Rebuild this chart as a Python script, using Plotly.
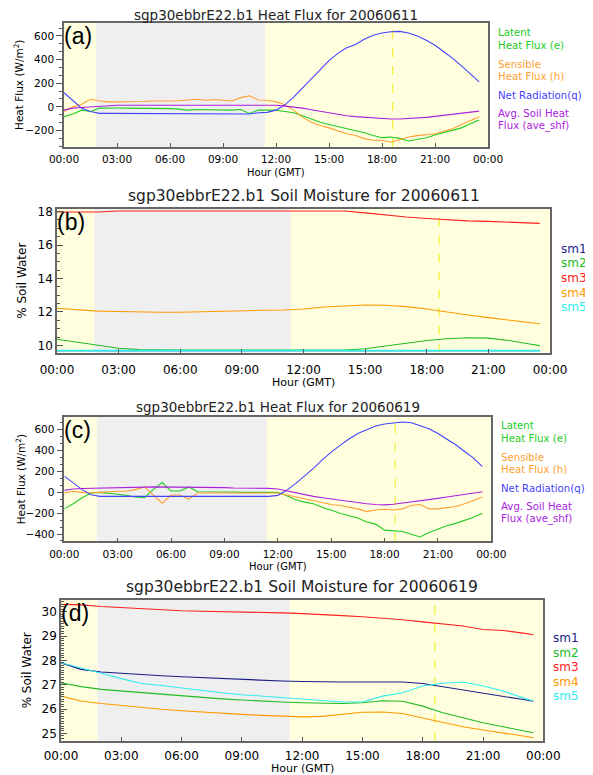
import plotly.graph_objects as go

# ---------------- data ----------------
hours_hf = [i * 0.5 for i in range(48)]          # 30-min EBBR samples, 00:00 .. 23:30
hours_sm = [0, 1, 2, 3, 4, 5, 6, 7, 8, 9, 10, 11, 12, 13, 14, 15, 16, 17, 18, 19, 20, 21, 22, 23, 23.5]

tick_hours = [0, 3, 6, 9, 12, 15, 18, 21, 24]
tick_text = ["00:00", "03:00", "06:00", "09:00", "12:00", "15:00", "18:00", "21:00", "00:00"]

night_start = 1.82
night_end = 11.38
solar_noon = 18.6

# 20060611 heat flux (W/m^2)
latent_0611 = [-83, -61, -28, -39, -11, -8, -10, -11, -11, -13, -13, -15, -15, -19, -28, -22,
               -25, -28, -25, -28, -22, -56, -28, -28, -28, -39, -50, -75, -103, -131, -150, -167,
               -189, -200, -219, -242, -261, -256, -267, -289, -278, -261, -239, -219, -200, -178, -144, -111]
sensible_0611 = [-39, 0, 22, 64, 50, 42, 42, 42, 42, 45, 50, 48, 50, 52, 56, 64,
                 56, 62, 56, 50, 78, 94, 58, 56, 42, 17, -28, -89, -131, -158, -178, -206,
                 -228, -242, -269, -283, -283, -300, -278, -256, -244, -239, -228, -206, -186, -150, -117, -83]
netrad_0611 = [119, 50, -11, -39, -55, -55, -55, -54, -55, -55, -54, -55, -55, -55, -54, -55,
               -55, -55, -55, -55, -55, -60, -50, -47, -28, 17, 83, 161, 244, 322, 392, 453,
               500, 528, 572, 606, 625, 636, 639, 625, 600, 564, 522, 467, 411, 347, 281, 211]
soilhf_0611 = [-28, -11, -6, 0, 8, 14, 14, 14, 14, 14, 14, 14, 14, 14, 14, 14,
               14, 14, 14, 14, 14, 14, 14, 14, 14, 6, 0, -11, -25, -39, -53, -64,
               -75, -83, -89, -97, -100, -103, -103, -100, -94, -89, -81, -72, -64, -53, -44, -36]

# 20060619 heat flux (W/m^2)
latent_0619 = [-159, -110, -52, -6, 0, -13, -19, -29, -45, -52, 26, 94, 13, 13, 52, 6,
               6, 10, 6, 3, 0, 0, 0, 0, 0, -32, -71, -94, -110, -143, -175, -201,
               -224, -247, -285, -305, -363, -370, -376, -402, -428, -386, -354, -321, -298, -272, -240, -201]
sensible_0619 = [-6, 10, 0, -6, 0, 6, 10, 10, 26, 52, -29, -104, -26, -26, -65, -6,
                 -6, -6, -6, -6, -6, -6, -6, -6, -6, -26, -45, -65, -84, -104, -117, -126,
                 -143, -159, -185, -169, -162, -169, -159, -126, -117, -159, -159, -149, -136, -110, -78, -45]
netrad_0619 = [156, 91, 26, -23, -39, -39, -40, -39, -38, -39, -39, -40, -39, -39, -38, -39,
               -39, -39, -40, -39, -39, -39, -39, -39, -29, 19, 84, 156, 230, 311, 386, 451,
               512, 564, 603, 636, 655, 668, 675, 668, 642, 610, 564, 512, 457, 392, 328, 246]
soilhf_0619 = [19, 32, 36, 39, 42, 42, 45, 45, 48, 50, 52, 52, 52, 52, 50, 48,
               48, 45, 45, 42, 42, 40, 40, 38, 32, 13, -6, -23, -39, -52, -65, -78,
               -91, -101, -110, -117, -120, -114, -104, -94, -84, -71, -58, -45, -32, -13, 0, 6]

# 20060611 soil moisture (%)
sm1_0611 = [9.69] * 25
sm2_0611 = [10.37, 10.19, 9.99, 9.83, 9.75, 9.72, 9.72, 9.72, 9.72, 9.72, 9.72, 9.72, 9.72, 9.72, 9.72,
            9.80, 9.97, 10.15, 10.30, 10.40, 10.46, 10.44, 10.30, 10.09, 9.99]
sm3_0611 = [17.97, 17.97, 17.97, 18.03, 18.03, 18.03, 18.03, 18.03, 18.03, 18.03, 18.03, 18.03, 18.03, 18.03, 18.03,
            17.92, 17.79, 17.67, 17.58, 17.50, 17.44, 17.41, 17.36, 17.32, 17.29]
sm4_0611 = [12.22, 12.14, 12.05, 12.03, 11.99, 11.98, 11.98, 12.02, 12.04, 12.07, 12.10, 12.12, 12.18, 12.30, 12.38,
            12.42, 12.40, 12.32, 12.18, 11.98, 11.82, 11.66, 11.50, 11.37, 11.30]
sm5_0611 = [9.69] * 25

# 20060619 soil moisture (%)
sm1_0619 = [27.90, 27.63, 27.52, 27.46, 27.41, 27.37, 27.33, 27.29, 27.25, 27.20, 27.16, 27.15, 27.13, 27.11, 27.11,
            27.11, 27.11, 27.11, 27.05, 26.92, 26.81, 26.67, 26.53, 26.39, 26.32]
sm2_0619 = [27.08, 26.92, 26.81, 26.74, 26.67, 26.61, 26.56, 26.49, 26.42, 26.37, 26.32, 26.29, 26.26, 26.25, 26.23,
            26.26, 26.34, 26.32, 26.12, 25.85, 25.64, 25.44, 25.27, 25.10, 25.03]
sm3_0619 = [30.30, 30.28, 30.21, 30.16, 30.12, 30.08, 30.04, 30.02, 30.01, 30.00, 29.99, 29.95, 29.92, 29.89, 29.84,
            29.79, 29.74, 29.67, 29.58, 29.49, 29.41, 29.27, 29.23, 29.12, 29.05]
sm4_0619 = [26.53, 26.33, 26.23, 26.14, 26.05, 25.99, 25.93, 25.87, 25.82, 25.78, 25.74, 25.70, 25.68, 25.70, 25.80,
            25.87, 25.88, 25.82, 25.63, 25.44, 25.27, 25.14, 25.03, 24.89, 24.82]
sm5_0619 = [27.90, 27.70, 27.47, 27.25, 27.05, 26.97, 26.86, 26.75, 26.67, 26.59, 26.53, 26.47, 26.40, 26.33, 26.29,
            26.29, 26.53, 26.67, 26.95, 27.06, 27.11, 26.95, 26.74, 26.46, 26.33]

# ---------------- style ----------------
W, H = 593, 775
OFF = 8  # page body margin offset
C_LAT, C_SEN, C_NET, C_SHF = "#22cc22", "#ffa030", "#4444ff", "#aa22dd"
C_SM = ["#1c1c88", "#22bb22", "#ff2020", "#ff9900", "#30eeee"]
YELLOW, GRAY = "#ffffe0", "#efefef"
FONT = "DejaVu Sans"


def px(x):
    return (x - OFF) / W


def py(y):
    return 1 - (y - OFF) / H


panels = [
    dict(n=1, xd=(64, 488), yd=(23, 147), yr=(-340, 710), dt=200, mdt=200 / 3, fs=10.5, tin=False, so=2,
         title="sgp30ebbrE22.b1 Heat Flux for 20060611", ty=15, tfs=13.5, lab="(a)", ytitle="Heat Flux (W/m<sup>2</sup>)",
         ytx=18, hy=172, hfs=10),
    dict(n=2, xd=(57, 550), yd=(209, 352.5), yr=(9.58, 18.15), dt=2, mdt=0.5, fs=12, tin=True, so=5,
         title="sgp30ebbrE22.b1 Soil Moisture for 20060611", ty=196, tfs=15.5, lab="(b)", ytitle="% Soil Water",
         ytx=22, hy=382.5, hfs=11),
    dict(n=3, xd=(64.3, 491.3), yd=(417.3, 541.3), yr=(-470, 720), dt=200, mdt=200 / 3, fs=10.5, tin=False, so=2,
         title="sgp30ebbrE22.b1 Heat Flux for 20060619", ty=407, tfs=13.5, lab="(c)", ytitle="Heat Flux (W/m<sup>2</sup>)",
         ytx=20, hy=566.5, hfs=10),
    dict(n=4, xd=(61, 543.3), yd=(600, 740.7), yr=(24.7, 30.48), dt=1, mdt=0.1, fs=12, tin=True, so=3,
         title="sgp30ebbrE22.b1 Soil Moisture for 20060619", ty=587, tfs=15.5, lab="(d)", ytitle="% Soil Water",
         ytx=27, hy=768.5, hfs=11),
]

fig = go.Figure()


def add_line(p, xs, ys, color, name, width=1.1):
    n = p["n"]
    fig.add_trace(go.Scatter(x=xs, y=ys, mode="lines", name=name, showlegend=False,
                             line=dict(color=color, width=width),
                             xaxis="x" if n == 1 else f"x{n}", yaxis="y" if n == 1 else f"y{n}"))


pa, pb, pc, pd = panels
add_line(pa, hours_hf, latent_0611, C_LAT, "Latent Heat Flux (e)")
add_line(pa, hours_hf, sensible_0611, C_SEN, "Sensible Heat Flux (h)")
add_line(pa, hours_hf, netrad_0611, C_NET, "Net Radiation(q)")
add_line(pa, hours_hf, soilhf_0611, C_SHF, "Avg. Soil Heat Flux (ave_shf)")

for ys, c, nm in zip([sm1_0611, sm2_0611, sm3_0611, sm4_0611, sm5_0611], C_SM, ["sm1", "sm2", "sm3", "sm4", "sm5"]):
    add_line(pb, hours_sm, ys, c, nm, width=1.6 if nm == "sm5" else 1.1)

add_line(pc, hours_hf, latent_0619, C_LAT, "Latent Heat Flux (e)")
add_line(pc, hours_hf, sensible_0619, C_SEN, "Sensible Heat Flux (h)")
add_line(pc, hours_hf, netrad_0619, C_NET, "Net Radiation(q)")
add_line(pc, hours_hf, soilhf_0619, C_SHF, "Avg. Soil Heat Flux (ave_shf)")

for ys, c, nm in zip([sm1_0619, sm2_0619, sm3_0619, sm4_0619, sm5_0619], C_SM, ["sm1", "sm2", "sm3", "sm4", "sm5"]):
    add_line(pd, hours_sm, ys, c, nm)

layout = dict(width=W, height=H, margin=dict(l=0, r=0, t=0, b=0, autoexpand=False), paper_bgcolor="white",
              plot_bgcolor=YELLOW, showlegend=False, font=dict(family=FONT, color="black"))
shapes = []
annotations = []

for p in panels:
    n = p["n"]
    xk = "xaxis" if n == 1 else f"xaxis{n}"
    yk = "yaxis" if n == 1 else f"yaxis{n}"
    xr = "x" if n == 1 else f"x{n}"
    yr = "y" if n == 1 else f"y{n}"
    xdom = [px(p["xd"][0]), px(p["xd"][1])]
    ydom = [py(p["yd"][1]), py(p["yd"][0])]
    layout[xk] = dict(domain=xdom, anchor=yr, range=[0, 24], tickvals=tick_hours, ticktext=tick_text,
                      ticks="inside", ticklen=4, tickcolor="#555", showline=True, linecolor="#666",
                      linewidth=1.5, mirror=True, showgrid=False, zeroline=False, automargin=False,
                      ticklabelstandoff=p["so"],
                      tickfont=dict(family=FONT, size=p["fs"], color="black"))
    layout[yk] = dict(domain=ydom, anchor=xr, range=list(p["yr"]), dtick=p["dt"], tick0=0,
                      ticks="inside" if p["tin"] else "outside", ticklen=6, tickcolor="#555",
                      showline=True, linecolor="#666", linewidth=1.5, mirror=True, showgrid=False,
                      zeroline=False, automargin=False, tickfont=dict(family=FONT, size=p["fs"], color="black"),
                      minor=dict(dtick=p["mdt"], tick0=0, ticks="inside" if p["tin"] else "outside",
                                 ticklen=3, tickcolor="#555", showgrid=False))
    # right-side (inside) ticks
    rk = f"yaxis{n + 4}"
    layout[rk] = dict(overlaying=yr, side="right", anchor=xr, range=list(p["yr"]), dtick=p["dt"], tick0=0,
                      ticks="inside", ticklen=6, tickcolor="#555", showticklabels=False, showline=False,
                      showgrid=False, zeroline=False, automargin=False,
                      minor=dict(dtick=p["mdt"], tick0=0, ticks="inside", ticklen=3, tickcolor="#555",
                                 showgrid=False))
    # night shading + solar noon line
    shapes.append(dict(type="rect", xref=xr, yref=f"{yr} domain", x0=night_start, x1=night_end, y0=0, y1=1,
                       fillcolor=GRAY, line=dict(width=0), layer="below"))
    shapes.append(dict(type="line", xref=xr, yref=f"{yr} domain", x0=solar_noon, x1=solar_noon, y0=0, y1=1,
                       line=dict(color="#f4f040", width=1.3, dash="dash"), layer="below"))
    cx = (p["xd"][0] + p["xd"][1]) / 2
    annotations.append(dict(text=p["title"], xref="paper", yref="paper", x=px(cx), y=py(p["ty"]),
                            xanchor="center", yanchor="middle", showarrow=False,
                            font=dict(family=FONT, size=p["tfs"], color="#222")))
    annotations.append(dict(text=p["lab"], xref="paper", yref="paper", x=px(p["xd"][0] - 2), y=py(p["yd"][0] - 2),
                            xanchor="left", yanchor="top", showarrow=False,
                            font=dict(family="Liberation Sans", size=23, color="black")))
    annotations.append(dict(text="Hour (GMT)", xref="paper", yref="paper", x=px(cx), y=py(p["hy"]),
                            xanchor="center", yanchor="middle", showarrow=False,
                            font=dict(family=FONT, size=p["hfs"], color="black")))
    cy = (p["yd"][0] + p["yd"][1]) / 2
    annotations.append(dict(text=p["ytitle"], xref="paper", yref="paper", x=px(p["ytx"]), y=py(cy),
                            xanchor="center", yanchor="middle", textangle=-90, showarrow=False,
                            font=dict(family=FONT, size=p["fs"], color="black")))

# legends as coloured text
hf_legend = [("Latent", C_LAT, 0), ("Heat Flux (e)", C_LAT, 12.5), ("Sensible", C_SEN, 31),
             ("Heat Flux (h)", C_SEN, 43.5), ("Net Radiation(q)", C_NET, 62),
             ("Avg. Soil Heat", C_SHF, 80.5), ("Flux (ave_shf)", C_SHF, 93)]
for x0, y0 in [(496, 33), (499, 426)]:
    for t, c, dy in hf_legend:
        annotations.append(dict(text=t, xref="paper", yref="paper", x=px(x0), y=py(y0 + dy),
                                xanchor="left", yanchor="middle", showarrow=False,
                                font=dict(family=FONT, size=10.2, color=c)))
for x0, y0 in [(559, 249), (551, 638)]:
    for i, nm in enumerate(["sm1", "sm2", "sm3", "sm4", "sm5"]):
        annotations.append(dict(text=nm, xref="paper", yref="paper", x=px(x0), y=py(y0 + i * 14.5),
                                xanchor="left", yanchor="middle", showarrow=False,
                                font=dict(family=FONT, size=12, color=C_SM[i])))

layout["shapes"] = shapes
layout["annotations"] = annotations
fig.update_layout(**layout)
fig.write_html("out.html")
